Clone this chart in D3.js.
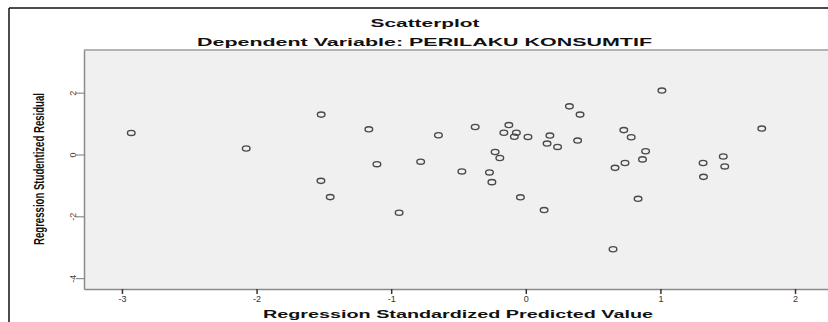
<!DOCTYPE html>
<html>
<head>
<meta charset="utf-8">
<script src="https://cdn.jsdelivr.net/npm/d3@7"></script>
<style>
  body { margin: 0; background: #fff; }
  svg { display: block; }
</style>
</head>
<body>
<div id="chart"></div>
<script>
const width = 828;
const height = 322;

// Standardized predicted value (x) and studentized residual (y)
const predicted = [
  -2.931, -2.077, -1.520, -1.522, -1.453, -1.166, -1.106, -0.941, -0.781, -0.649,
  -0.475, -0.376, -0.270, -0.252, -0.228, -0.193, -0.163, -0.126, -0.085, -0.070,
  -0.040, 0.016, 0.136, 0.158, 0.179, 0.236, 0.324, 0.385, 0.403, 0.648,
  0.663, 0.728, 0.737, 0.783, 0.834, 0.867, 0.890, 1.011, 1.317, 1.320,
  1.467, 1.478, 1.753
];
const residual = [
  0.697, 0.194, 1.290, -0.852, -1.377, 0.816, -0.313, -1.884, -0.232, 0.623,
  -0.548, 0.890, -0.581, -0.894, 0.081, -0.113, 0.703, 0.952, 0.574, 0.703,
  -1.384, 0.568, -1.797, 0.355, 0.613, 0.245, 1.558, 0.452, 1.290, -3.065,
  -0.432, 0.790, -0.274, 0.558, -1.432, -0.158, 0.106, 2.068, -0.274, -0.723,
  -0.065, -0.387, 0.839
];
const xTicks = [-3, -2, -1, 0, 1, 2];
const yTicks = [-4, -2, 0, 2];

const points = predicted.map((x, i) => ({x: x, y: residual[i]}));

const plot = {left: 84, top: 50, right: 828, bottom: 289};

const svg = d3.select("#chart")
    .append("svg")
    .attr("width", width)
    .attr("height", height);

// outer frame (only top and left edges are visible in the crop)
svg.append("line")
    .attr("x1", 9).attr("x2", width).attr("y1", 8).attr("y2", 8)
    .attr("stroke", "#111").attr("stroke-width", 1.5);
svg.append("line")
    .attr("x1", 9).attr("x2", 9).attr("y1", 8).attr("y2", height)
    .attr("stroke", "#111").attr("stroke-width", 1.5);

const x = d3.scaleLinear()
    .domain([-3.282, 2.245])
    .range([plot.left, plot.right]);

const y = d3.scaleLinear()
    .domain([-4.35, 3.38])
    .range([plot.bottom, plot.top]);

// plot background
svg.append("rect")
    .attr("x", plot.left)
    .attr("y", plot.top)
    .attr("width", plot.right - plot.left)
    .attr("height", plot.bottom - plot.top)
    .attr("fill", "#f0f0f0");

svg.append("line")
    .attr("x1", plot.left).attr("x2", plot.right)
    .attr("y1", plot.top).attr("y2", plot.top)
    .attr("stroke", "#b4b4b4").attr("stroke-width", 2);

// x axis
const xAxis = svg.append("g")
    .attr("transform", `translate(0,${plot.bottom})`)
    .call(d3.axisBottom(x).tickValues(xTicks).tickSize(5).tickSizeOuter(0).tickFormat(d => String(d)));
xAxis.select(".domain").attr("stroke", "#8a8a8a").attr("stroke-width", 1.5);
xAxis.selectAll(".tick line").attr("stroke", "#333").attr("stroke-width", 1.5);
xAxis.selectAll(".tick text")
    .attr("y", 7)
    .attr("fill", "#333")
    .style("font-family", "Liberation Sans, Arial, sans-serif")
    .style("font-size", "9px");

// y axis, labels rotated like SPSS output
const yAxis = svg.append("g")
    .attr("transform", `translate(${plot.left},0)`)
    .call(d3.axisLeft(y).tickValues(yTicks).tickSize(8).tickSizeOuter(0).tickFormat(d => String(d)));
yAxis.select(".domain").attr("stroke", "#8a8a8a").attr("stroke-width", 1.5);
yAxis.selectAll(".tick line").attr("stroke", "#777").attr("stroke-width", 1);
yAxis.selectAll(".tick text")
    .attr("x", null).attr("dy", null)
    .attr("text-anchor", "middle")
    .attr("transform", "translate(-11,0) rotate(-90) translate(0,3)")
    .attr("fill", "#444")
    .style("font-family", "Liberation Sans, Arial, sans-serif")
    .style("font-size", "9px");

// points: open circles, a bit wider than tall
svg.append("g")
    .selectAll("ellipse")
    .data(points)
    .enter()
    .append("ellipse")
    .attr("cx", d => x(d.x))
    .attr("cy", d => y(d.y))
    .attr("rx", 3.8)
    .attr("ry", 2.6)
    .attr("fill", "none")
    .attr("stroke", "#4a4a4a")
    .attr("stroke-width", 1.4);

// titles (glyphs stretched sideways, as in the original export)
function title(txt, cx, base, len, size) {
  svg.append("text")
      .attr("x", cx).attr("y", base)
      .attr("text-anchor", "middle")
      .attr("textLength", len).attr("lengthAdjust", "spacingAndGlyphs")
      .style("font-family", "Liberation Sans, Arial, sans-serif")
      .style("font-weight", "bold")
      .style("font-size", size + "px")
      .attr("fill", "#111")
      .text(txt);
}
title("Scatterplot", 425, 27, 109, 10.5);
title("Dependent Variable: PERILAKU KONSUMTIF", 424.5, 45.7, 455, 11);
title("Regression Standardized Predicted Value", 458, 318, 390, 11);

svg.append("text")
    .attr("transform", "translate(43.5,169) rotate(-90)")
    .attr("text-anchor", "middle")
    .attr("textLength", 152).attr("lengthAdjust", "spacingAndGlyphs")
    .style("font-family", "Liberation Sans Narrow, Arial Narrow, sans-serif")
    .style("font-weight", "bold")
    .style("font-size", "14.5px")
    .attr("fill", "#111")
    .text("Regression Studentized Residual");
</script>
</body>
</html>
